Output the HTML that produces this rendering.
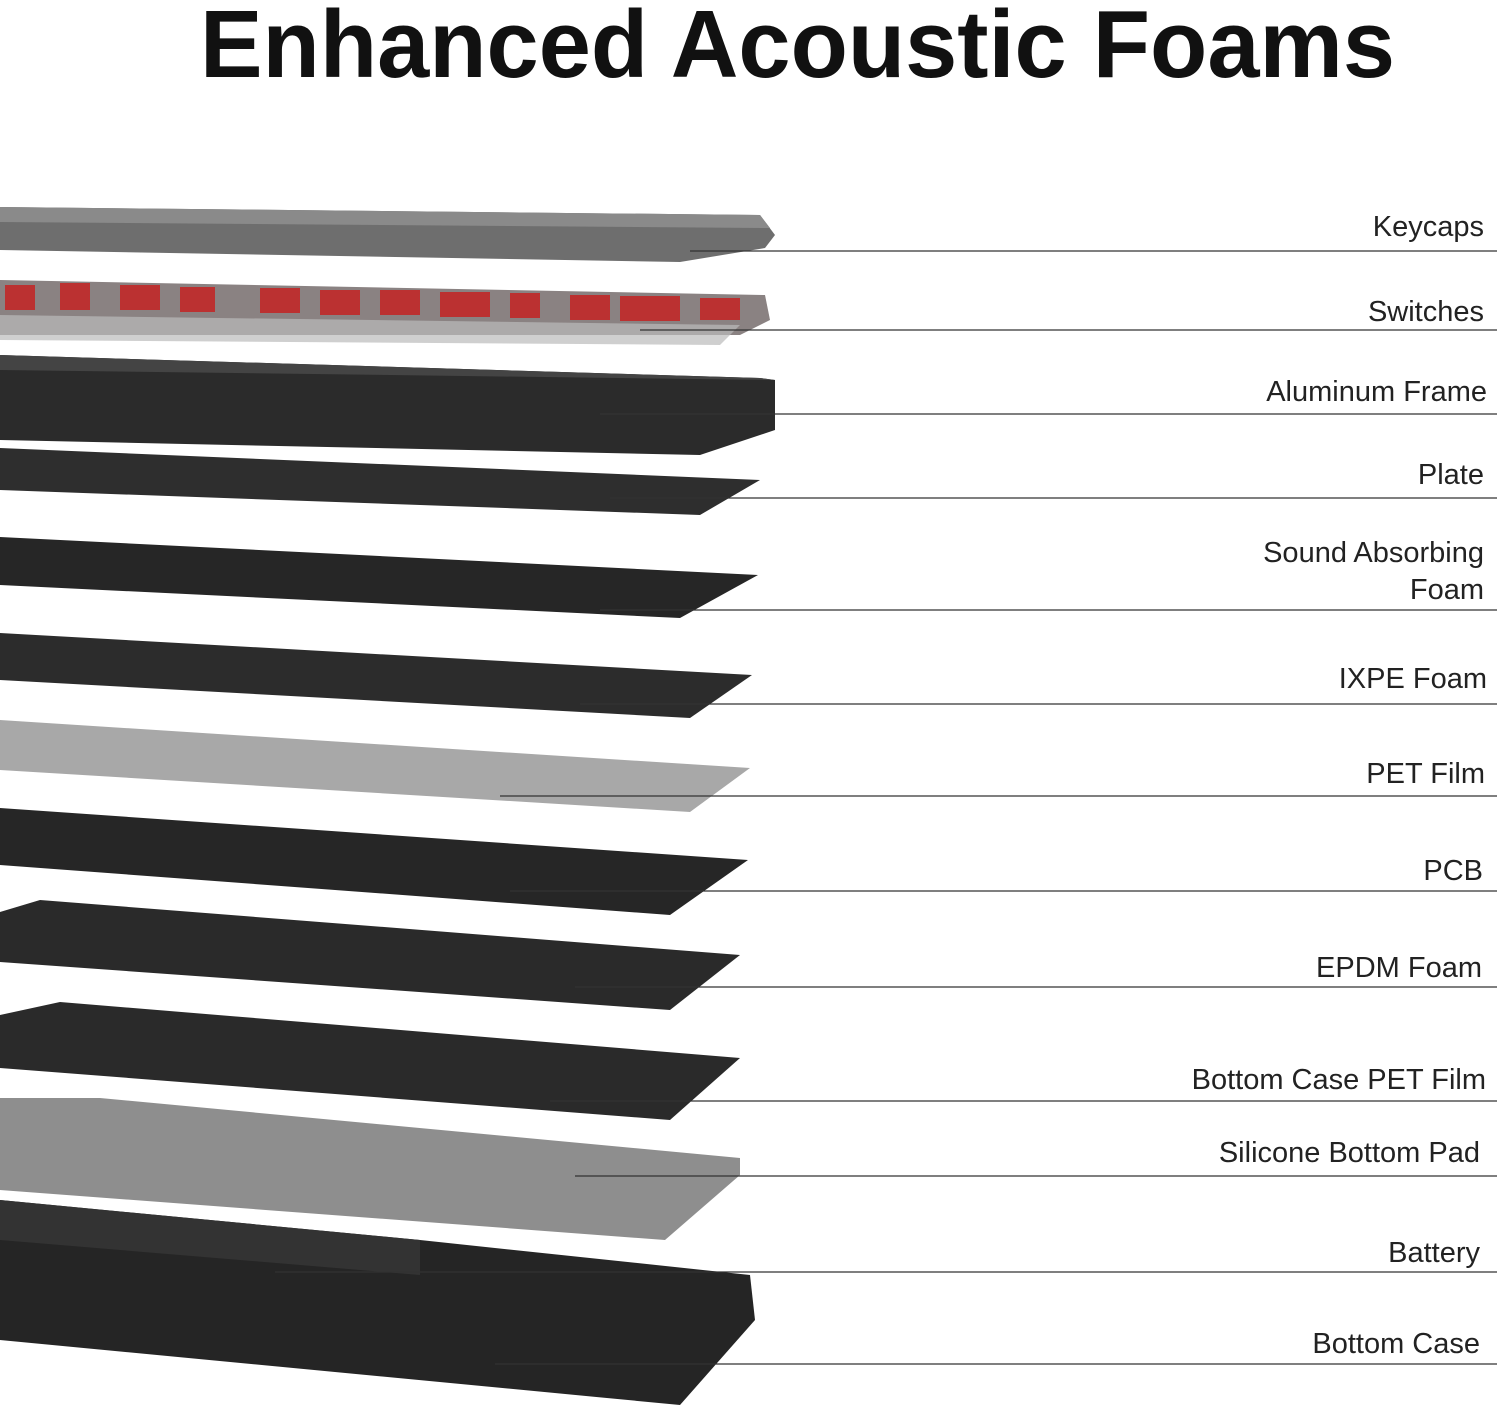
<!DOCTYPE html>
<html><head><meta charset="utf-8"><style>
html,body{margin:0;padding:0;background:#fff}
svg{display:block}
text{font-family:"Liberation Sans",sans-serif}
</style></head><body>
<svg width="1500" height="1409" viewBox="0 0 1500 1409" xmlns="http://www.w3.org/2000/svg">
<rect width="1500" height="1409" fill="#fff"/>
<text x="200" y="77" font-size="96" font-weight="bold" fill="#111" textLength="1195" lengthAdjust="spacingAndGlyphs">Enhanced Acoustic Foams</text>

<!-- Keycaps -->
<polygon points="0,207 760,215 775,235 765,248 680,262 0,250" fill="#6e6e6e"/>
<polygon points="0,207 760,215 770,228 0,222" fill="#8a8a8a"/>
<!-- Switches -->
<polygon points="0,280 765,295 770,320 740,335 0,335" fill="#8a8282"/>
<g fill="#c81e1e" opacity="0.8">
<rect x="5" y="285" width="30" height="25"/><rect x="60" y="283" width="30" height="27"/><rect x="120" y="285" width="40" height="25"/>
<rect x="180" y="287" width="35" height="25"/><rect x="260" y="288" width="40" height="25"/><rect x="320" y="290" width="40" height="25"/>
<rect x="380" y="290" width="40" height="25"/><rect x="440" y="292" width="50" height="25"/><rect x="510" y="293" width="30" height="25"/>
<rect x="570" y="295" width="40" height="25"/><rect x="620" y="296" width="60" height="25"/><rect x="700" y="298" width="40" height="22"/>
</g>
<polygon points="0,315 740,325 720,345 0,340" fill="#bbb" opacity="0.7"/>
<!-- Aluminum frame -->
<polygon points="0,355 760,378 775,380 775,430 700,455 0,440" fill="#2b2b2b"/>
<polygon points="0,355 760,378 775,380 0,370" fill="#444"/>
<!-- Plate -->
<polygon points="0,448 760,480 700,515 0,490" fill="#2e2e2e"/>
<!-- Sound absorbing -->
<polygon points="0,537 758,575 680,618 0,585" fill="#262626"/>
<!-- IXPE -->
<polygon points="0,633 752,675 690,718 0,680" fill="#2c2c2c"/>
<!-- PET film -->
<polygon points="0,720 750,768 690,812 0,770" fill="#a8a8a8"/>
<!-- PCB -->
<polygon points="0,808 748,860 670,915 0,865" fill="#262626"/>
<!-- EPDM -->
<polygon points="0,912 40,900 740,955 670,1010 0,962" fill="#2a2a2a"/>
<!-- Bottom case PET -->
<polygon points="0,1015 60,1002 740,1058 670,1120 0,1068" fill="#2a2a2a"/>
<!-- Silicone pad -->
<polygon points="0,1098 100,1098 740,1158 740,1175 665,1240 0,1190" fill="#8e8e8e"/>
<!-- Bottom case -->
<polygon points="0,1200 420,1240 750,1275 755,1320 680,1405 0,1340" fill="#252525"/>
<polygon points="0,1200 420,1240 420,1275 0,1240" fill="#333"/>

<g stroke="#333" stroke-width="1.3">
<line x1="690" y1="251" x2="1497" y2="251"/>
<line x1="640" y1="330" x2="1497" y2="330"/>
<line x1="600" y1="414" x2="1497" y2="414"/>
<line x1="610" y1="498" x2="1497" y2="498"/>
<line x1="600" y1="610" x2="1497" y2="610"/>
<line x1="580" y1="704" x2="1497" y2="704"/>
<line x1="500" y1="796" x2="1497" y2="796"/>
<line x1="510" y1="891" x2="1497" y2="891"/>
<line x1="575" y1="987" x2="1497" y2="987"/>
<line x1="550" y1="1101" x2="1497" y2="1101"/>
<line x1="575" y1="1176" x2="1497" y2="1176"/>
<line x1="275" y1="1272" x2="1497" y2="1272"/>
<line x1="495" y1="1364" x2="1497" y2="1364"/>
</g>
<g font-size="29" fill="#222" text-anchor="end">
<text x="1484" y="236">Keycaps</text>
<text x="1484" y="321">Switches</text>
<text x="1487" y="401">Aluminum Frame</text>
<text x="1484" y="484">Plate</text>
<text x="1484" y="562">Sound Absorbing</text>
<text x="1484" y="599">Foam</text>
<text x="1487" y="688">IXPE Foam</text>
<text x="1485" y="783">PET Film</text>
<text x="1483" y="880">PCB</text>
<text x="1482" y="977">EPDM Foam</text>
<text x="1486" y="1089">Bottom Case PET Film</text>
<text x="1480" y="1162">Silicone Bottom Pad</text>
<text x="1480" y="1262">Battery</text>
<text x="1480" y="1353">Bottom Case</text>
</g>
</svg>
</body></html>
